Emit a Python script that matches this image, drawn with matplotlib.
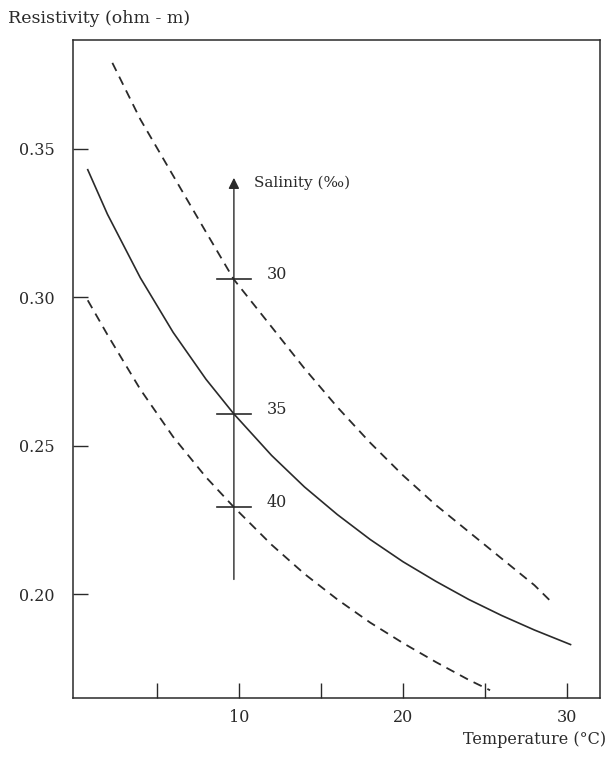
import matplotlib.pyplot as plt

# temperature (deg C) and resistivity (ohm-m)
temp_35 = [0.8, 2, 4, 6, 8, 9.7, 12, 14, 16, 18, 20, 22, 24, 26, 28, 30.2]
res_35 = [0.343, 0.328, 0.3066, 0.2882, 0.2724, 0.2607, 0.2467, 0.2361,
          0.2268, 0.2184, 0.2109, 0.2043, 0.1982, 0.1928, 0.1879, 0.183]

temp_30 = [2.3, 4, 6, 8, 9.7, 12, 14, 16, 18, 20, 22, 24, 26, 28, 29.1]
res_30 = [0.379, 0.360, 0.341, 0.322, 0.306, 0.290, 0.276, 0.263,
          0.251, 0.240, 0.230, 0.221, 0.212, 0.203, 0.197]

temp_40 = [0.8, 2, 4, 6, 8, 9.7, 12, 14, 16, 18, 20, 22, 24, 25.3]
res_40 = [0.299, 0.2874, 0.269, 0.253, 0.2394, 0.2293, 0.2166, 0.2068,
          0.1982, 0.1904, 0.1835, 0.1771, 0.1711, 0.1676]

# salinity scale drawn at T = 9.7
sal_temp = 9.7
sal_axis_range = (0.204, 0.3412)
sal_labels = ["30", "35", "40"]
sal_values = [0.3062, 0.2607, 0.2293]

xticks = [5, 10, 15, 20, 25, 30]
xticklabels = ["", "10", "", "20", "", "30"]
yticks = [0.20, 0.25, 0.30, 0.35]
yticklabels = ["0.20", "0.25", "0.30", "0.35"]

ink = "#2a2a2a"
plt.rcParams["font.family"] = ["DejaVu Serif"]

fig = plt.figure(figsize=(6.08, 7.58), dpi=100)
ax = fig.add_axes([0.120, 0.0792, 0.867, 0.8680])

ax.plot(temp_35, res_35, color=ink, lw=1.2)
ax.plot(temp_30, res_30, color=ink, lw=1.3, dashes=(5, 3.5))
ax.plot(temp_40, res_40, color=ink, lw=1.3, dashes=(5, 3.5))

# salinity arrow + marks
ax.annotate("", xy=(sal_temp, sal_axis_range[1]), xytext=(sal_temp, sal_axis_range[0]),
            arrowprops=dict(arrowstyle="-|>", color=ink, lw=1.0, mutation_scale=16))
half = 1.05
for lab, v in zip(sal_labels, sal_values):
    ax.plot([sal_temp - half, sal_temp + half], [v, v], color=ink, lw=1.2)
    ax.text(sal_temp + 2.0, v + 0.0015, lab, color=ink, fontsize=11.5, ha="left", va="center")
ax.text(sal_temp + 1.25, 0.3385, "Salinity (‰)", color=ink, fontsize=11,
        ha="left", va="center")

ax.set_xlim(-0.1, 32.0)
ax.set_ylim(0.165, 0.3867)
ax.set_xticks(xticks)
ax.set_xticklabels(xticklabels)
ax.set_yticks(yticks)
ax.set_yticklabels(yticklabels)
ax.tick_params(direction="in", length=11, width=1.0, color=ink, labelcolor=ink, labelsize=11.5)
ax.tick_params(axis="x", pad=8)
ax.tick_params(axis="y", pad=13)
for s in ax.spines.values():
    s.set_color(ink)
    s.set_linewidth(1.1)

fig.text(0.013, 0.976, "Resistivity (ohm - m)", color=ink, fontsize=12.5, ha="left", va="center")
fig.text(0.997, 0.024, "Temperature (°C)", color=ink, fontsize=11.5, ha="right", va="center")

fig.savefig("out.png", dpi=100, facecolor="white")
